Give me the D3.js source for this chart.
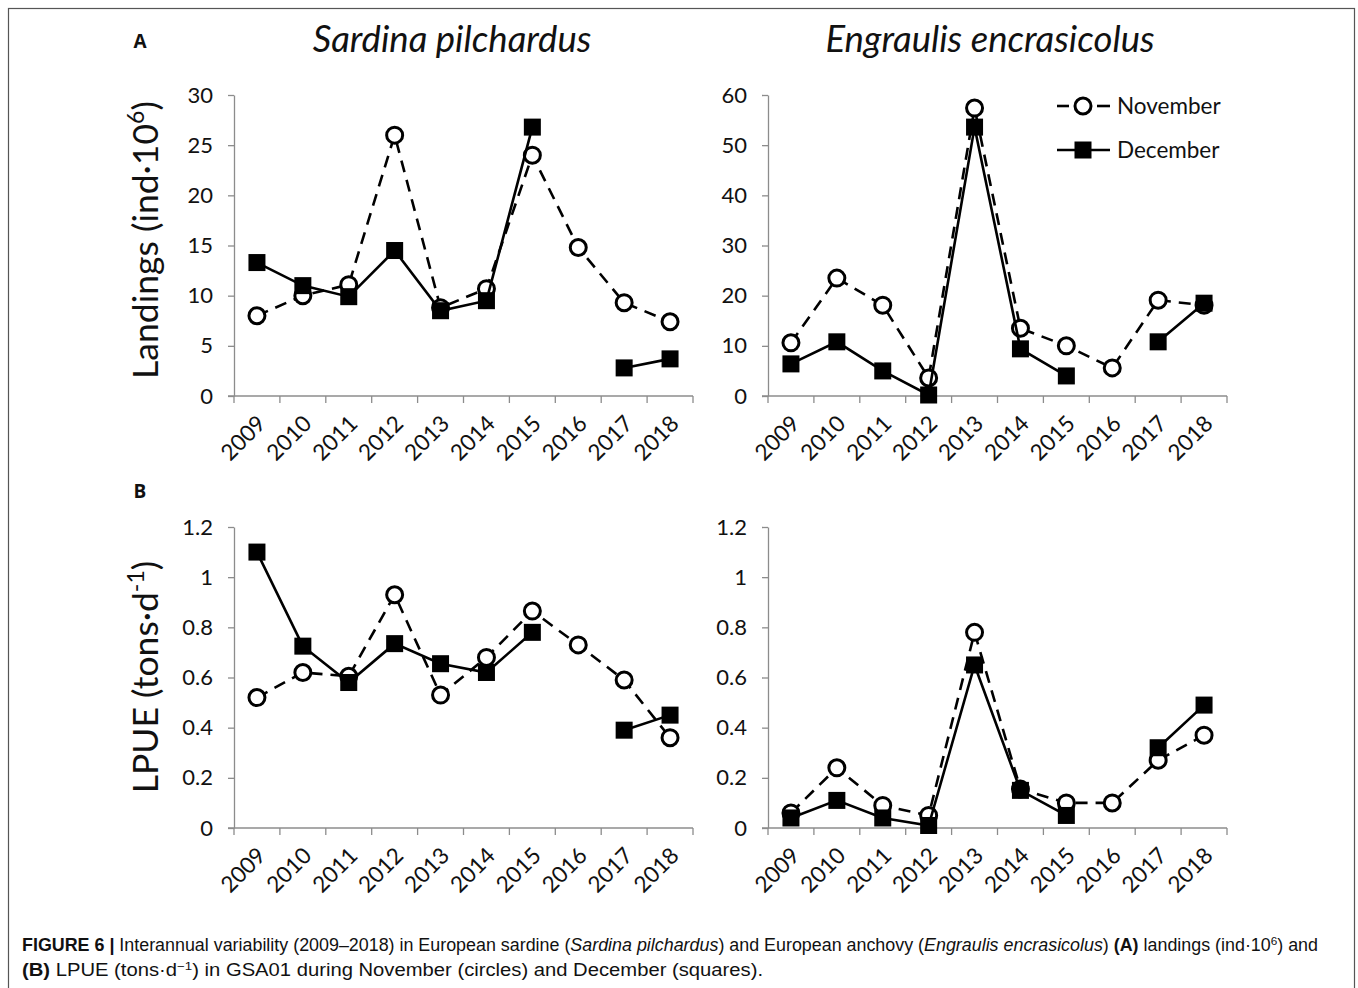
<!DOCTYPE html>
<html>
<head>
<meta charset="utf-8">
<script src="https://cdn.jsdelivr.net/npm/d3@7"></script>
<style>
  body { margin: 0; background: #fff; }
  svg text { fill: #111; }
</style>
</head>
<body>
<div id="container"></div>
<script>
// years on the x axis
const years = ["2009", "2010", "2011", "2012", "2013", "2014", "2015", "2016", "2017", "2018"];

// A: landings (ind·10^6)
const sardineLandNov = [8.0, 10.0, 11.1, 26.0, 8.8, 10.7, 24.0, 14.8, 9.3, 7.4];
const sardineLandDec = [13.3, 11.0, 9.9, 14.5, 8.5, 9.5, 26.8, null, 2.8, 3.7];
const anchovyLandNov = [10.6, 23.5, 18.1, 3.6, 57.4, 13.5, 10.0, 5.6, 19.1, 18.1];
const anchovyLandDec = [6.4, 10.8, 5.0, 0.2, 53.6, 9.4, 4.0, null, 10.8, 18.5];

// B: LPUE (tons·d-1)
const sardineLpueNov = [0.52, 0.62, 0.605, 0.93, 0.53, 0.68, 0.865, 0.73, 0.59, 0.36];
const sardineLpueDec = [1.10, 0.725, 0.58, 0.735, 0.655, 0.62, 0.78, null, 0.39, 0.45];
const anchovyLpueNov = [0.06, 0.24, 0.09, 0.05, 0.78, 0.155, 0.10, 0.10, 0.27, 0.37];
const anchovyLpueDec = [0.04, 0.11, 0.04, 0.01, 0.65, 0.15, 0.05, null, 0.32, 0.49];

// y axis ticks
const landTicksSardine = [0, 5, 10, 15, 20, 25, 30];
const landTicksAnchovy = [0, 10, 20, 30, 40, 50, 60];
const lpueTicks = [0, 0.2, 0.4, 0.6, 0.8, 1, 1.2];

const W = 1358, H = 988;
const chartFont = "Lato, 'Open Sans', sans-serif";
const axisGrey = "#8c8c8c";

const svg = d3.select("#container").append("svg")
    .attr("width", W)
    .attr("height", H)
    .attr("viewBox", [0, 0, W, H]);

// outer frame
svg.append("rect")
    .attr("x", 8.5).attr("y", 8.5)
    .attr("width", 1346).attr("height", 1000)
    .attr("fill", "none")
    .attr("stroke", "#555")
    .attr("stroke-width", 1.2);

// panel letters and species titles
svg.append("text").attr("x", 140).attr("y", 48)
    .attr("text-anchor", "middle").attr("font-family", "'Open Sans', sans-serif")
    .attr("font-weight", "bold").attr("font-size", 19).text("A");
svg.append("text").attr("x", 140).attr("y", 498)
    .attr("text-anchor", "middle").attr("font-family", "'Open Sans', sans-serif")
    .attr("font-weight", "bold").attr("font-size", 19).text("B");

const titles = [
    { text: "Sardina pilchardus", x: 452 },
    { text: "Engraulis encrasicolus", x: 990 }
];
titles.forEach(t => {
    svg.append("text")
        .attr("x", t.x).attr("y", 52)
        .attr("text-anchor", "middle")
        .attr("font-family", chartFont)
        .attr("font-style", "italic")
        .attr("font-size", 36.5)
        .text(t.text);
});

function drawPanel(opts) {
    const g = svg.append("g");
    const x = d3.scaleBand()
        .domain(years)
        .range([opts.left, opts.left + 459]);
    const y = d3.scaleLinear()
        .domain([0, d3.max(opts.ticks)])
        .range([opts.bottom, opts.top]);

    // y axis
    const yAxis = g.append("g")
        .attr("transform", `translate(${opts.left},0)`)
        .call(d3.axisLeft(y).tickValues(opts.ticks).tickSize(6).tickSizeOuter(0)
            .tickFormat(d => String(d)));
    yAxis.select(".domain").attr("stroke", axisGrey).attr("stroke-width", 1.3);
    yAxis.selectAll(".tick line").attr("stroke", axisGrey).attr("stroke-width", 1.3);
    yAxis.selectAll(".tick text")
        .attr("x", -21)
        .attr("font-family", chartFont)
        .attr("font-size", 22)
        .attr("fill", "#111");

    // x axis: line plus tick marks at band boundaries
    const xg = g.append("g").attr("transform", `translate(0,${opts.bottom})`);
    xg.append("line")
        .attr("x1", x.range()[0] - 6).attr("x2", x.range()[1])
        .attr("stroke", axisGrey).attr("stroke-width", 1.3);
    const bounds = years.map(d => x(d)).concat([x.range()[1]]);
    xg.selectAll(".xtick").data(bounds).enter().append("line")
        .attr("x1", d => d).attr("x2", d => d)
        .attr("y1", 0).attr("y2", 7)
        .attr("stroke", axisGrey).attr("stroke-width", 1.3);
    xg.selectAll(".xlab").data(years).enter().append("text")
        .attr("transform", d => `translate(${x(d) + x.bandwidth() / 2 - 1},${18}) rotate(-45)`)
        .attr("text-anchor", "end")
        .attr("dy", "0.7em")
        .attr("font-family", chartFont)
        .attr("font-size", 22.5)
        .text(d => d);

    const line = d3.line()
        .defined(d => d.v !== null)
        .x(d => x(d.year) + x.bandwidth() / 2)
        .y(d => y(d.v));

    const nov = years.map((yr, i) => ({ year: yr, v: opts.nov[i] }));
    const dec = years.map((yr, i) => ({ year: yr, v: opts.dec[i] }));

    g.append("path").datum(nov)
        .attr("d", line)
        .attr("fill", "none")
        .attr("stroke", "#000")
        .attr("stroke-width", 2.6)
        .attr("stroke-dasharray", "12,8");
    g.selectAll(".nov").data(nov.filter(d => d.v !== null)).enter().append("circle")
        .attr("cx", d => x(d.year) + x.bandwidth() / 2)
        .attr("cy", d => y(d.v))
        .attr("r", 8)
        .attr("fill", "#fff")
        .attr("stroke", "#000")
        .attr("stroke-width", 3);

    g.append("path").datum(dec)
        .attr("d", line)
        .attr("fill", "none")
        .attr("stroke", "#000")
        .attr("stroke-width", 2.6);
    g.selectAll(".dec").data(dec.filter(d => d.v !== null)).enter().append("rect")
        .attr("x", d => x(d.year) + x.bandwidth() / 2 - 8.5)
        .attr("y", d => y(d.v) - 8.5)
        .attr("width", 17)
        .attr("height", 17)
        .attr("fill", "#000");
}

drawPanel({ left: 234, top: 95, bottom: 396, ticks: landTicksSardine, nov: sardineLandNov, dec: sardineLandDec });
drawPanel({ left: 768, top: 95, bottom: 396, ticks: landTicksAnchovy, nov: anchovyLandNov, dec: anchovyLandDec });
drawPanel({ left: 234, top: 527, bottom: 828, ticks: lpueTicks, nov: sardineLpueNov, dec: sardineLpueDec });
drawPanel({ left: 768, top: 527, bottom: 828, ticks: lpueTicks, nov: anchovyLpueNov, dec: anchovyLpueDec });

// y axis titles
const yt1 = svg.append("text")
    .attr("transform", "translate(158,240) rotate(-90)")
    .attr("text-anchor", "middle")
    .attr("font-family", chartFont)
    .attr("font-size", 35.5);
yt1.append("tspan").text("Landings (ind·10");
yt1.append("tspan").attr("font-size", 23).attr("dy", -14).text("6");
yt1.append("tspan").attr("dy", 14).text(")");

const yt2 = svg.append("text")
    .attr("transform", "translate(158,677) rotate(-90)")
    .attr("text-anchor", "middle")
    .attr("font-family", chartFont)
    .attr("font-size", 35.5);
yt2.append("tspan").text("LPUE (tons·d");
yt2.append("tspan").attr("font-size", 23).attr("dy", -14).text("-1");
yt2.append("tspan").attr("dy", 14).text(")");

// legend
const legend = svg.append("g");
const legendItems = [
    { label: "November", y: 106, dashed: true },
    { label: "December", y: 150, dashed: false }
];
legendItems.forEach(it => {
    if (it.dashed) {
        [[1057, 1069], [1097, 1110]].forEach(s => {
            legend.append("line")
                .attr("x1", s[0]).attr("x2", s[1])
                .attr("y1", it.y).attr("y2", it.y)
                .attr("stroke", "#000").attr("stroke-width", 2.6);
        });
        legend.append("circle").attr("cx", 1083).attr("cy", it.y).attr("r", 8)
            .attr("fill", "#fff").attr("stroke", "#000").attr("stroke-width", 3);
    } else {
        legend.append("line")
            .attr("x1", 1057).attr("x2", 1110)
            .attr("y1", it.y).attr("y2", it.y)
            .attr("stroke", "#000").attr("stroke-width", 2.6);
        legend.append("rect").attr("x", 1074.5).attr("y", it.y - 8.5)
            .attr("width", 17).attr("height", 17).attr("fill", "#000");
    }
    legend.append("text")
        .attr("x", 1117).attr("y", it.y)
        .attr("dy", "0.35em")
        .attr("font-family", chartFont)
        .attr("font-size", 22.5)
        .text(it.label);
});

// caption
const capFont = "'Liberation Sans Narrow', 'Liberation Sans', Arial, sans-serif";
const cap1 = svg.append("text").attr("x", 22).attr("y", 951)
    .attr("font-family", capFont).attr("font-size", 17.5).attr("fill", "#222")
    .attr("textLength", 1296).attr("lengthAdjust", "spacingAndGlyphs");
cap1.append("tspan").attr("font-weight", "bold").text("FIGURE 6 | ");
cap1.append("tspan").text("Interannual variability (2009–2018) in European sardine (");
cap1.append("tspan").attr("font-style", "italic").text("Sardina pilchardus");
cap1.append("tspan").text(") and European anchovy (");
cap1.append("tspan").attr("font-style", "italic").text("Engraulis encrasicolus");
cap1.append("tspan").text(") ");
cap1.append("tspan").attr("font-weight", "bold").text("(A)");
cap1.append("tspan").text(" landings (ind·10");
cap1.append("tspan").attr("font-size", 11.5).attr("dy", -6).text("6");
cap1.append("tspan").attr("dy", 6).text(") and");

const cap2 = svg.append("text").attr("x", 22).attr("y", 976)
    .attr("font-family", capFont).attr("font-size", 17.5).attr("fill", "#222")
    .attr("textLength", 741).attr("lengthAdjust", "spacingAndGlyphs");
cap2.append("tspan").attr("font-weight", "bold").text("(B)");
cap2.append("tspan").text(" LPUE (tons·d");
cap2.append("tspan").attr("font-size", 11.5).attr("dy", -6).text("−1");
cap2.append("tspan").attr("dy", 6).text(") in GSA01 during November (circles) and December (squares).");
</script>
</body>
</html>
